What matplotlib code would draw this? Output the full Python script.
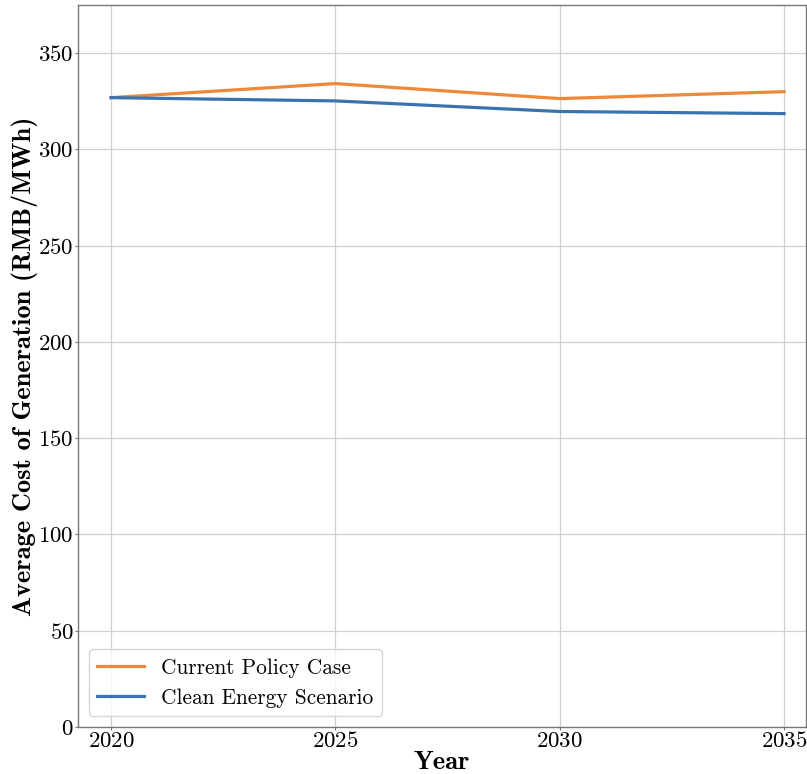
import matplotlib.pyplot as plt
import matplotlib as mpl

mpl.rcParams['axes.formatter.use_mathtext'] = True

years = [2020, 2025, 2030, 2035]
current_policy = [326.9, 334.2, 326.4, 330.0]
clean_energy = [326.9, 325.2, 319.7, 318.6]
series_labels = ['Current Policy Case', 'Clean Energy Scenario']

fig = plt.figure(figsize=(8.07, 7.74), dpi=100)
ax = fig.add_axes([0.0967, 0.0607, 0.9021, 0.9328])

ax.plot(years, current_policy, color='#f0883a', linewidth=2.3, label=series_labels[0])
ax.plot(years, clean_energy, color='#3a74b0', linewidth=2.3, label=series_labels[1])

ax.set_xlim(2019.265, 2035.49)
ax.set_ylim(0, 375)
ax.set_xticks(years)
ax.set_yticks(range(0, 351, 50))
ax.grid(True, color='#d0d0d0', linewidth=0.9)
ax.set_axisbelow(True)
for s in ax.spines.values():
    s.set_color('#777777')
    s.set_linewidth(1.0)
ax.tick_params(length=2, color='#777777', labelsize=16.5, pad=1)
for lbl in ax.get_xticklabels() + ax.get_yticklabels():
    lbl.set_fontfamily('cmr10')

ax.set_xlabel('Year', fontfamily='cmb10', fontsize=19, labelpad=0)
ax.set_ylabel('Average Cost of Generation (RMB/MWh)', fontfamily='cmb10', fontsize=19, labelpad=0)

leg = ax.legend(loc='lower left', prop={'family': 'cmr10', 'size': 15.4},
                handlelength=2.2, borderaxespad=0.5)
leg.get_frame().set_edgecolor('#cccccc')

fig.savefig('out.png', dpi=100)
